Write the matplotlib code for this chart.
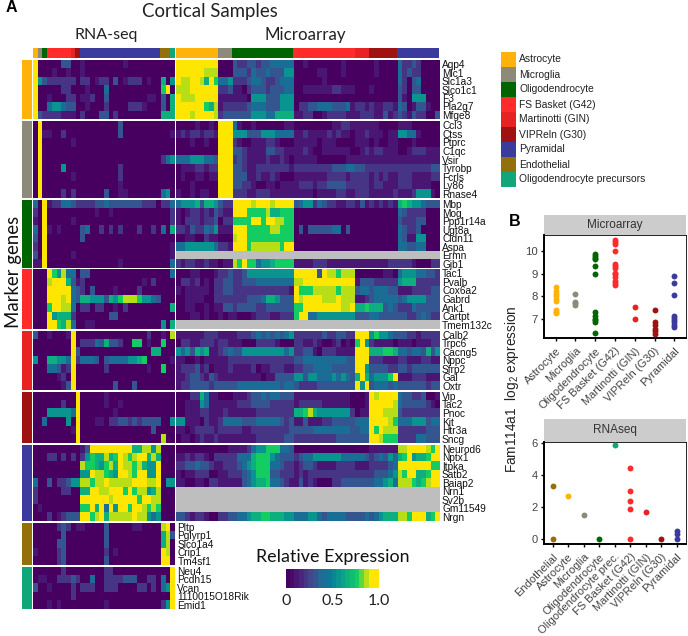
import numpy as np
import matplotlib
matplotlib.use('Agg')
import matplotlib.pyplot as plt
from matplotlib.colors import ListedColormap, LinearSegmentedColormap, Normalize
from matplotlib.cm import ScalarMappable

plt.rcParams['font.family'] = ['Liberation Sans', 'DejaVu Sans']
plt.rcParams['mathtext.default'] = 'regular'
W, H = 688, 636

cell_types = ['Astrocyte', 'Microglia', 'Oligodendrocyte', 'FS Basket (G42)', 'Martinotti (GIN)',
              'VIPReln (G30)', 'Pyramidal', 'Endothelial', 'Oligodendrocyte precursors']
type_colors = ['#FFB30A', '#8E8A7A', '#006400', '#FF2A2A', '#E82222', '#A01212', '#3B3B9E', '#94700A', '#10A67A']
rna_counts = [1, 1, 1, 5, 1, 1, 17, 2, 1]
array_counts = [9, 3, 13, 13, 3, 6, 9, 0, 0]

astro_genes = ['Aqp4', 'Mlc1', 'Slc1a3', 'Slco1c1', 'F3', 'Pla2g7', 'Mfge8']
micro_genes = ['Ccl3', 'Ctss', 'Ptprc', 'C1qc', 'Vsir', 'Tyrobp', 'Fcrls', 'Ly86', 'Rnase4']
oligo_genes = ['Mbp', 'Mog', 'Ppp1r14a', 'Ugt8a', 'Cldn11', 'Aspa', 'Ermn', 'Gjb1']
fs_genes = ['Tac1', 'Pvalb', 'Cox6a2', 'Gabrd', 'Ank1', 'Cartpt', 'Tmem132c']
mart_genes = ['Calb2', 'Trpc6', 'Cacng5', 'Nppc', 'Sfrp2', 'Gal', 'Oxtr']
vip_genes = ['Vip', 'Tac2', 'Pnoc', 'Kit', 'Htr3a', 'Sncg']
pyr_genes = ['Neurod6', 'Nptx1', 'Itpka', 'Satb2', 'Baiap2', 'Nrn1', 'Sv2b', 'Gm11549', 'Nrgn']
endo_genes = ['Pltp', 'Pglyrp1', 'Slco1a4', 'Crip1', 'Tm4sf1']
opc_genes = ['Neu4', 'Pcdh15', 'Vcan', '1110015O18Rik', 'Emid1']

# digits 0-9 = relative expression in ninths
rna_astro = ["9 0 0 00033 0 0 10000000010000000 00 0", "9 0 0 01001 0 0 10000000000000000 00 0",
 "9 5 3 22222 2 0 22012203012220100 60 5", "9 0 0 00022 0 0 01000400000000000 79 0",
 "9 0 0 10002 2 0 11200300000000110 30 6", "9 0 0 45543 3 0 01000200002221000 30 6",
 "9 3 2 22211 1 0 20003302000000000 66 6"]
rna_micro = ["0 9 0 00000 0 0 00000000300000000 00 0", "0 9 1 10020 0 0 00000000300000000 00 1",
 "0 9 0 00000 1 0 00000000000000000 00 0", "0 9 0 00000 0 0 00000000000000000 00 0",
 "0 9 0 00000 0 0 00000000000000000 24 5", "0 9 0 00050 0 0 00000000200000000 00 0",
 "0 9 0 00000 1 0 00000000200000000 00 0", "0 9 0 00000 0 0 00000000100000000 00 0",
 "0 9 0 00020 2 0 00000300110000000 45 0"]
rna_oligo = ["4 0 9 12244 3 2 22233433333332220 22 4", "2 0 9 00000 0 0 00010010000000000 00 2",
 "1 0 9 00000 1 0 00000000000000000 00 2", "4 0 9 10100 0 0 34002020200020020 40 6",
 "3 0 9 00000 0 0 30000000000000000 00 0", "2 0 9 00000 0 0 00000000000000000 00 1",
 "3 0 9 00000 1 0 00000000000000000 00 1", "1 1 9 00000 0 0 00000000100000000 00 4"]
rna_fs = ["0 0 0 97584 4 0 33000000000000000 00 4", "0 0 0 89996 3 1 20000000000001020 00 0",
 "0 0 0 99999 4 3 20300001000020000 00 0", "0 0 0 99989 4 3 66555365788875543 00 0",
 "0 0 0 79988 4 0 22022001020000000 00 6", "0 0 0 95666 2 0 00000033000000000 00 0",
 "0 0 0 99768 4 0 01100000000000000 50 6"]
rna_mart = ["3 0 0 10001 9 0 00000000000000200 10 8", "0 0 0 00000 9 0 22243633200770100 70 0",
 "0 0 0 00000 9 3 00000000000000066 00 0", "5 0 0 66554 9 2 44430344445567000 00 1",
 "0 0 0 44312 9 0 00000200000000100 70 0", "0 0 0 00120 9 0 00000000000000000 00 0",
 "0 0 0 00013 9 0 00000003000300000 00 0"]
rna_vip = ["0 0 0 00000 0 9 00000100000000000 00 0", "0 0 0 00020 0 9 00000100100000000 00 0",
 "0 0 0 55555 4 9 00000001000000000 00 0", "0 0 4 00005 0 9 00011022332323333 00 5",
 "0 0 0 00000 1 9 00000000000000030 00 0", "0 0 0 00000 0 9 00000000000000000 80 0"]
rna_pyr = ["0 0 0 00000 0 0 13999999999668858 00 0", "0 0 0 22020 2 0 25766867987899686 00 0",
 "0 0 0 00000 0 0 87765786988786559 00 0", "0 0 0 00000 0 0 55988765998799559 00 0",
 "4 0 0 30223 5 5 88788988888999889 05 5", "2 0 0 00022 0 0 66998899979788568 00 0",
 "2 0 0 00000 0 0 99999989999979988 00 0", "0 1 0 00000 0 0 77969495997998787 00 0",
 "0 0 0 20123 3 3 99789688888988545 00 0"]
rna_endo = ["0 0 0 00232 0 1 10000300000110000 89 0", "0 0 0 00030 0 0 00000300000000000 68 3",
 "0 0 0 00330 0 0 00000300000000000 68 0", "1 0 0 00230 0 0 00000201000000000 98 0",
 "0 0 0 00230 0 0 00000300000000000 99 0"]
rna_opc = ["0 0 0 00020 0 0 00000220000000000 00 9", "0 1 1 00222 3 2 00400222233300220 40 9",
 "3 0 0 10000 2 0 22200222000022020 45 9", "0 0 0 00000 2 0 00000000000000000 00 9",
 "0 0 0 10100 0 0 00000100000000000 25 9"]

grey = 'x' * 56
arr_astro = ["999999999 000 3223323344444 0010000000100 000 010000 422320000",
 "999999888 000 3332433433355 0000011000100 000 010000 423220000",
 "988998697 445 2223443223444 0000001000000 000 000000 420340000",
 "888999999 223 1102333233344 0011111122111 000 100000 320330000",
 "988899999 111 1110555333555 0000000000000 000 000000 310555000",
 "999999768 122 2223444333555 0223344433341 221 211221 430133100",
 "999899998 233 3333555446666 1122001222211 122 211312 321322003"]
arr_micro = ["000010010 999 4100100000011 0000000011221 111 110000 111000000",
 "121221221 999 5553335554444 1121111212110 112 111011 554410000",
 "000100100 999 2100111221000 1111101110000 111 010011 000100000",
 "000000000 999 3321111332211 1121001111110 012 122111 001222111",
 "444555443 999 2321111211210 1111100000011 111 111111 111111111",
 "011122122 999 3321122222221 2222222233344 332 222222 222222233",
 "010011011 999 3331121121000 1111111222212 222 121211 222111122",
 "000100000 999 3322100110111 1222122333322 222 122111 222111100",
 "100101100 999 2221122211111 1111011112211 222 111112 111255510"]
arr_oligo = ["455563665 322 9999899989999 3455243221122 131 212121 676554333",
 "101221213 211 9997777866777 0000000000000 000 000000 432222000",
 "102221223 022 7777997998877 0000000000000 000 000000 322233000",
 "221322435 111 9997777788777 0303333344030 000 000000 432230000",
 "001100211 000 8997777777777 0000000000000 000 000000 431155000",
 "445555554 221 9997888888799 0000000000000 000 000000 443344000",
 grey,
 "212211211 011 8797745567777 1111222111111 111 111122 222100022"]
arr_fs = ["000110001 223 2235555555555 9999939887888 000 000110 455544332",
 "022120102 233 2233344444444 8899999999999 133 322222 566622222",
 "101111102 233 2222222222221 9777888887888 344 344433 111222233",
 "001111002 222 2223334665333 9899998889888 112 344444 345555333",
 "001100101 133 2333322333333 7799999999889 667 666343 222433333",
 "000110100 101 1000122211222 7994455555555 333 443333 332234322",
 grey]
arr_mart = ["111111222 111 1222343434345 2222223223322 999 575543 332212222",
 "022112221 221 1100022221000 2211210012010 795 211110 111011122",
 "545365611 234 3355555555545 2233102221111 999 666776 443443635",
 "110010111 112 2222222222222 3344444444433 999 222111 221112211",
 "122231201 112 1111201122211 2233444433333 995 333322 332333333",
 "112332132 111 1111110113333 5535544454543 696 455579 111222111",
 "122333323 333 3444444444344 3222233333333 959 344434 333333233"]
arr_vip = ["000226411 000 1112334344333 1111111111110 001 989999 433223001",
 "001115411 111 1222333322222 1222221111110 001 999998 433333210",
 "001112211 121 1111122222222 6678655555552 011 999888 322222222",
 "551110211 244 4433344444323 1131112233333 444 999987 444555344",
 "110122221 222 2211222222223 3333444444443 344 979888 222222333",
 "011012112 111 1111122222233 2222222223333 333 998777 222244333"]
arr_pyr = ["000000000 001 1112455777443 0000000000000 000 111111 889999879",
 "112122102 222 2444677754333 2344555555444 443 234354 679566799",
 "223343321 122 2345677744322 1233211112222 111 222234 999999977",
 "101122200 112 2234577733222 1212222222222 222 233345 879966799",
 "110011022 111 1134566744321 1312100022333 333 344564 888767899",
 grey, grey, grey,
 "332122100 223 3445667766655 4445543444433 334 345666 887999679"]

# panel B values
micro_points = {
    'Astrocyte': [7.25, 7.3, 7.4, 7.8, 7.9, 8.0, 8.1, 8.25, 8.4],
    'Microglia': [7.6, 7.7, 7.75, 8.1],
    'Oligodendrocyte': [6.4, 6.85, 6.95, 7.0, 7.15, 7.3, 9.0, 9.35, 9.65, 9.7, 9.8, 9.9],
    'FS Basket (G42)': [8.5, 8.6, 8.7, 8.85, 9.0, 9.05, 9.25, 9.35, 9.45, 10.0, 10.3, 10.4, 10.5],
    'Martinotti (GIN)': [7.0, 7.55],
    'VIPReln (G30)': [6.35, 6.45, 6.55, 6.75, 6.85, 7.4],
    'Pyramidal': [6.65, 6.75, 6.85, 6.95, 7.05, 7.15, 8.05, 8.6, 8.9],
}
rna_points = {
    'Endothelial': [0, 3.3], 'Astrocyte': [2.7], 'Microglia': [1.5], 'Oligodendrocyte': [0],
    'Oligodendrocyte prec.': [5.83], 'FS Basket (G42)': [0, 1.9, 2.4, 3.0, 4.4],
    'Martinotti (GIN)': [1.7], 'VIPReln (G30)': [0], 'Pyramidal': [0, 0.3, 0.5],
}
point_colors = dict(zip(cell_types, type_colors))
point_colors['Oligodendrocyte prec.'] = type_colors[8]


def box(x0, y0, x1, y1):
    return fig.add_axes([x0 / W, 1 - y1 / H, (x1 - x0) / W, (y1 - y0) / H])


def parse(rows):
    out = []
    for r in rows:
        s = r.replace(' ', '')
        out.append([np.nan if c == 'x' else int(c) / 9 for c in s])
    return np.array(out)


fig = plt.figure(figsize=(W / 100, H / 100), dpi=100)
stops = [(0, '#480060'), (.12, '#4b1a78'), (.24, '#45408a'), (.36, '#2a6494'), (.48, '#0a7a98'),
         (.6, '#0a9a8e'), (.72, '#10b878'), (.8, '#14d060'), (.88, '#a0dc20'), (.95, '#ffe600'), (1, '#ffe600')]
cmap = ListedColormap(LinearSegmentedColormap.from_list('v', stops)(np.linspace(0, 1, 20)))
cmap.set_bad('#BEBEBE')
norm = Normalize(0, 1)

blocks = [
    (astro_genes, rna_astro, arr_astro, 60, 119),
    (micro_genes, rna_micro, arr_micro, 121, 198),
    (oligo_genes, rna_oligo, arr_oligo, 200, 268),
    (fs_genes, rna_fs, arr_fs, 269, 329),
    (mart_genes, rna_mart, arr_mart, 330.5, 390),
    (vip_genes, rna_vip, arr_vip, 391.5, 443),
    (pyr_genes, rna_pyr, arr_pyr, 444.5, 521),
    (endo_genes, rna_endo, None, 522.5, 565),
    (opc_genes, rna_opc, None, 566.5, 609),
]
RX = (33, 174.5)
AX = (175.7, 439.3)
gene_font = dict(fontsize=7.3, color='#111111')

for i, (genes, rna, arr, y0, y1) in enumerate(blocks):
    side = box(22, y0, 32, y1)
    side.set_facecolor(type_colors[i])
    side.set_xticks([]); side.set_yticks([])
    for s in side.spines.values():
        s.set_visible(False)
    a1 = box(RX[0], y0, RX[1], y1)
    m = parse(rna)
    assert m.shape[1] == 30
    a1.imshow(m, cmap=cmap, norm=norm, aspect='auto', interpolation='nearest')
    target = a1
    if arr is not None:
        a2 = box(AX[0], y0, AX[1], y1)
        m2 = parse(arr)
        assert m2.shape[1] == 56
        a2.imshow(m2, cmap=cmap, norm=norm, aspect='auto', interpolation='nearest')
        a2.set_xticks([])
        target = a2
    a1.set_xticks([])
    a1.set_yticks([])
    target.yaxis.tick_right()
    target.set_yticks(range(len(genes)))
    target.set_yticklabels(genes, **gene_font)
    target.tick_params(axis='y', length=0, pad=2)
    for ax in (a1, target):
        for s in ax.spines.values():
            s.set_visible(False)

# top annotation bars
for counts, (x0, x1) in ((rna_counts, RX), (array_counts, AX)):
    t = box(x0, 48, x1, 57.5)
    left = 0
    for c, col in zip(counts, type_colors):
        t.barh([0], c, left=left, height=1, color=col, linewidth=0)
        left += c
    t.set_xlim(0, sum(counts)); t.set_ylim(-.5, .5)
    t.axis('off')

title_font = ['Lato', 'DejaVu Sans']
fig.text(210 / W, 1 - 11 / H, 'Cortical Samples', family=title_font, fontsize=13.4, ha='center', va='center', color='#222222')
fig.text(106 / W, 1 - 35 / H, 'RNA-seq', family=title_font, fontsize=11.5, ha='center', va='center', color='#222222')
fig.text(305 / W, 1 - 35 / H, 'Microarray', family=title_font, fontsize=12.2, ha='center', va='center', color='#222222')
fig.text(11 / W, 1 - 8 / H, 'A', fontweight='bold', fontsize=11.5, ha='center', va='center')
fig.text(515 / W, 1 - 221 / H, 'B', fontweight='bold', fontsize=11.5, ha='center', va='center')
fig.text(14 / W, 1 - 272 / H, 'Marker genes', family=title_font, fontsize=13.4, rotation=90, ha='center', va='center', color='#111111')

# legend
leg = box(501, 52, 516, 187)
for j, col in enumerate(type_colors):
    leg.barh(j, 1, height=1, color=col, linewidth=0)
    leg.text(1.2, j, cell_types[j], fontsize=7.4, va='center', ha='left', color='#222222', clip_on=False)
leg.set_xlim(0, 1); leg.set_ylim(8.5, -.5)
leg.axis('off')

# colour bar
cax = box(286, 569, 379, 588)
cb = fig.colorbar(ScalarMappable(norm=norm, cmap=cmap), cax=cax, orientation='horizontal', ticks=[0, .5, 1])
cb.ax.set_xticklabels(['0', '0.5', '1.0'], family=title_font, fontsize=11.5, color='#222222')
cb.ax.tick_params(length=0, pad=4)
cb.outline.set_visible(False)
cb.solids.set_edgecolor('face')
fig.text(333 / W, 1 - 557 / H, 'Relative Expression', family=title_font, fontsize=12.9, ha='center', va='center', color='#111111')


def strip_panel(title, data, strip, panel, ylim, xlim, yticks, ytfs):
    s = box(panel[0], strip[0], panel[1], strip[1])
    s.set_facecolor('#CCCCCC')
    s.set_xticks([]); s.set_yticks([])
    for sp in s.spines.values():
        sp.set_visible(False)
    s.text(.5, .5, title, transform=s.transAxes, ha='center', va='center', fontsize=8.5, color='#333333')
    ax = box(panel[0], strip[1], panel[1], panel[2])
    for k, (name, vals) in enumerate(data.items()):
        ax.scatter([k] * len(vals), vals, s=18, color=point_colors[name], linewidths=0, zorder=3, clip_on=False)
    ax.set_xlim(*xlim); ax.set_ylim(*ylim)
    ax.set_xticks(range(len(data)))
    ax.set_xticklabels(list(data), rotation=45, ha='right', va='top', rotation_mode='anchor', fontsize=8, color='#444444')
    ax.set_yticks(yticks)
    ax.tick_params(axis='y', labelsize=ytfs, length=2.5, width=1, pad=2, labelcolor='#444444')
    ax.tick_params(axis='x', length=2.5, width=1, pad=3)
    for n in ('left', 'bottom'):
        ax.spines[n].set_linewidth(1.4)
    for n in ('top', 'right'):
        ax.spines[n].set_linewidth(.6)
    return ax


strip_panel('Microarray', micro_points, (215, 235), (544, 686, 338), (6.16, 10.72), (-.59, 6.59), [7, 8, 9, 10], 8.2)
strip_panel('RNAseq', rna_points, (419, 442), (544, 686, 544), (-.29, 6.04), (-.55, 8.6), [0, 2, 4, 6], 8.0)
fig.text(512 / W, 1 - 389 / H, 'Fam114a1  log$_2$ expression', rotation=90, fontsize=9.8, ha='center', va='center', color='#222222')

fig.savefig('out.png', dpi=100)
